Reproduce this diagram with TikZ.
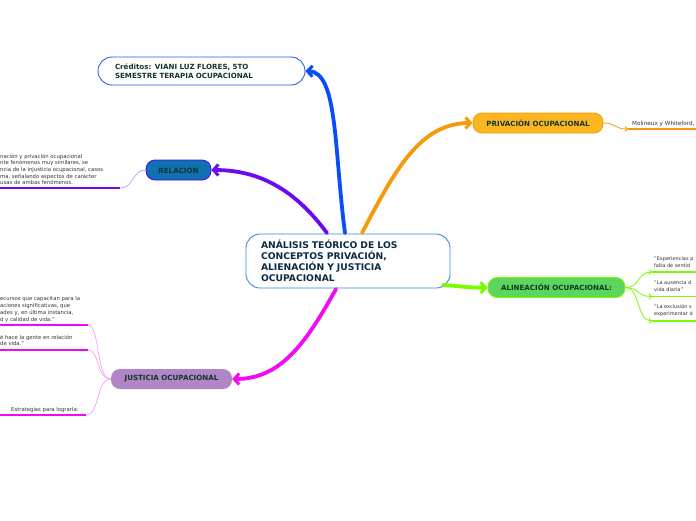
\documentclass[tikz,border=0pt]{standalone}
\usepackage{fontspec}
\setmainfont{DejaVu Sans}
\usetikzlibrary{arrows.meta}
\definecolor{cblue}{HTML}{0A4CF5}
\definecolor{corange}{HTML}{F59A0A}
\definecolor{cviolet}{HTML}{6A0AF5}
\definecolor{cgreen}{HTML}{7CFC00}
\definecolor{cmag}{HTML}{F00AF5}
\definecolor{tdark}{HTML}{12372A}
\definecolor{tnavy}{HTML}{0D2B45}
\definecolor{small}{HTML}{333333}
\definecolor{fpriv}{HTML}{FDB71E}
\definecolor{falin}{HTML}{5CD65C}
\definecolor{frel}{HTML}{1070B0}
\definecolor{fjust}{HTML}{B086C6}
\definecolor{bcent}{HTML}{3A8DD4}
\definecolor{bcred}{HTML}{2563EB}
\tikzset{
  mainbox/.style={draw=#1, line width=0.9pt, fill=white, rounded corners=14pt, inner ysep=0pt},
  topicbox/.style={fill=#1, rounded corners=9pt, minimum height=20pt, inner sep=0pt,
     font=\fontsize{7.1}{8}\selectfont\bfseries, text=tdark},
  bigconn/.style={line width=3.8pt, #1, line cap=round, -{Straight Barb[length=5pt,width=11pt,line width=3pt]}},
  thinconn/.style={line width=0.8pt, #1, -{Straight Barb[length=2.5pt,width=5pt]}},
  leaf/.style={line width=1.3pt, #1},
  smalltxt/.style={font=\fontsize{5.7}{6.8}\selectfont, text=small, inner sep=0pt},
  righttxt/.style={font=\fontsize{5.0}{6.8}\selectfont, text=small, inner sep=0pt},
  lefttxt/.style={font=\fontsize{5.3}{6.7}\selectfont, text=small, inner sep=0pt},
}
\begin{document}
\begin{tikzpicture}[x=1pt,y=-1pt]
\useasboundingbox (0,0) rectangle (696,520);
\clip (0,0) rectangle (696,520);
\fill[white] (0,0) rectangle (696,520);

% nodes
\node[mainbox=bcent, minimum width=204pt, minimum height=54pt, text width=174pt,
      align=left, inner xsep=15pt, font=\fontsize{9.2}{11}\selectfont\bfseries, text=tnavy]
      (central) at (348,261) {ANÁLISIS TEÓRICO DE LOS\\CONCEPTOS PRIVACIÓN,\\ALIENACIÓN Y JUSTICIA\\OCUPACIONAL};
\node[mainbox=bcred, minimum width=207pt, minimum height=28pt, text width=173pt,
      align=left, inner xsep=17pt, font=\fontsize{7.1}{9}\selectfont\bfseries, text=tdark]
      (cred) at (201.5,71) {Créditos: VIANI LUZ FLORES, 5TO\\SEMESTRE TERAPIA OCUPACIONAL};
\node[topicbox=fpriv, draw=corange, line width=0.8pt, minimum width=130pt] (priv) at (538,123) {PRIVACIÓN OCUPACIONAL};
\node[topicbox=falin, draw=cgreen, line width=0.8pt, minimum width=137pt] (alin) at (556.5,287.5) {ALINEACIÓN OCUPACIONAL:};
\node[topicbox=frel, draw=cviolet!70!blue, line width=0.8pt, minimum width=65pt] (rel) at (178.5,170) {RELACIÓN};
\node[topicbox=fjust, minimum width=121pt] (just) at (171.5,379) {JUSTICIA OCUPACIONAL};

% main connectors
\draw[bigconn=cblue] (345,233) .. controls (334,150) and (338,72) .. (cred.east);
\draw[bigconn=corange] (362,233) .. controls (395,170) and (420,123) .. (priv.west);
\draw[bigconn=cviolet] (327,233) .. controls (295,190) and (260,170) .. (rel.east);
\draw[bigconn=cgreen] (443,285) .. controls (460,286) and (470,288) .. (alin.west);
\draw[bigconn=cmag] (336,289) .. controls (305,345) and (280,379) .. (just.east);

% privacion branch
\coordinate (p1) at (628,129);
\draw[thinconn=corange] (priv.east) .. controls (616,123) and (614,129) .. (p1);
\draw[leaf=corange] (p1) -- (696,129);
\node[smalltxt, anchor=west] (ptxt) at (632,123.5) {Molineux y Whiteford,};

% alienacion branches
\coordinate (a1) at (652,272);
\coordinate (a2) at (652,296.5);
\coordinate (a3) at (652,321);
\draw[thinconn=cgreen] (alin.east) .. controls (640,288) and (637,272) .. (a1);
\draw[thinconn=cgreen] (alin.east) .. controls (640,288) and (637,296.5) .. (a2);
\draw[thinconn=cgreen] (alin.east) .. controls (640,288) and (637,321) .. (a3);
\draw[leaf=cgreen] (a1) -- (696,272);
\draw[leaf=cgreen] (a2) -- (696,296.5);
\draw[leaf=cgreen] (a3) -- (696,321);
\node[righttxt, anchor=west, align=left] (at1) at (654,262.5) {"Experiencias p\\falta de sentid};
\node[righttxt, anchor=west, align=left] (at2) at (654,286.5) {"La ausencia d\\vida diaria"};
\node[righttxt, anchor=west, align=left] (at3) at (654,310.5) {"La exclusión s\\experimentar d};

% relacion branch
\coordinate (r1) at (120,188);
\draw[line width=0.7pt, cviolet!40!white] (rel.west) .. controls (132,170) and (134,188) .. (r1);
\draw[leaf=cviolet] (r1) -- (0,188);
\node[lefttxt, anchor=west, align=left] (rtxt) at (0,169.5)
  {nación y privación ocupacional\\nte fenómenos muy similares, se\\ncia de la injusticia ocupacional, casos\\ma, señalando aspectos de carácter\\usas de ambas fenómenos.};

% justicia branches
\coordinate (j1) at (88,325);
\coordinate (j2) at (88,350);
\coordinate (j3) at (86,415);
\draw[line width=0.7pt, cmag!40!white] (just.west) .. controls (96,379) and (100,325) .. (j1);
\draw[line width=0.7pt, cmag!40!white] (just.west) .. controls (96,379) and (100,350) .. (j2);
\draw[line width=0.7pt, cmag!40!white] (just.west) .. controls (96,379) and (100,415) .. (j3);
\draw[leaf=cmag] (j1) -- (0,325);
\draw[leaf=cmag] (j2) -- (0,350);
\draw[leaf=cmag] (j3) -- (0,415);
\node[lefttxt, anchor=west, align=left] (jtxt1) at (0,309.5)
  {ecursos que capacitan para la\\aciones significativas, que\\ades y, en última instancia,\\d y calidad de vida."};
\node[lefttxt, anchor=west, align=left] (jtxt2) at (0,340.5)
  {é hace la gente en relación\\de vida."};
\node[lefttxt, anchor=west] (jt7) at (11,410) {Estrategias para lograrla:};
\end{tikzpicture}
\end{document}
